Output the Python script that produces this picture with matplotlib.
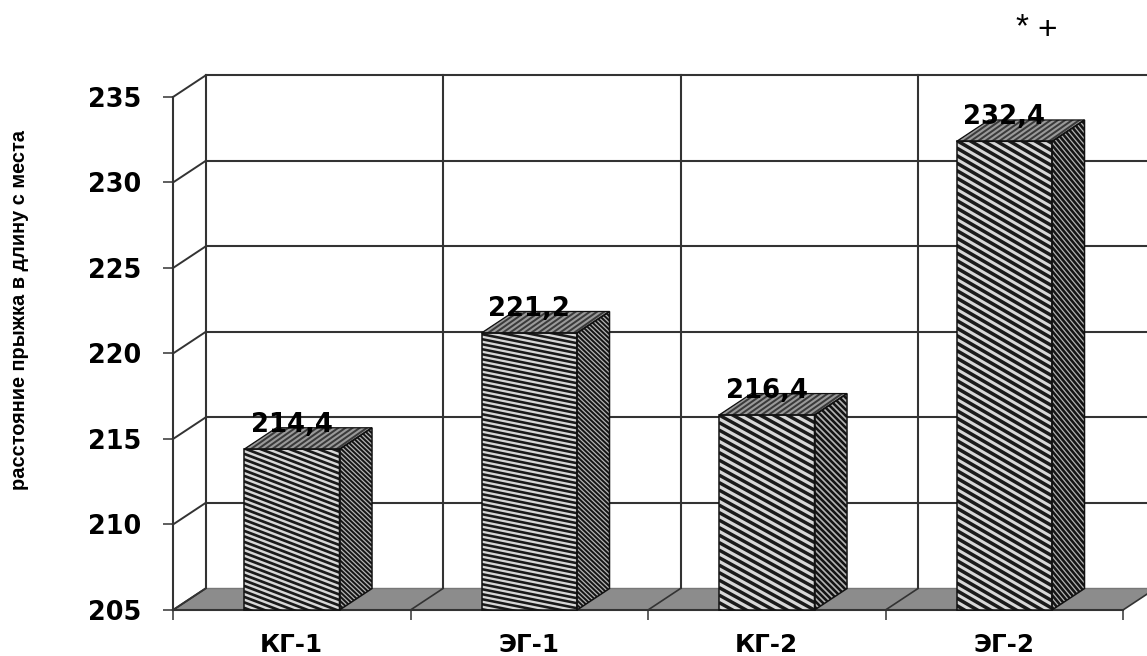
import numpy as np
import matplotlib
matplotlib.use('Agg')
import matplotlib.pyplot as plt
from matplotlib.patches import Polygon
from matplotlib.collections import LineCollection

categories = ['КГ-1', 'ЭГ-1', 'КГ-2', 'ЭГ-2']
values = [214.4, 221.2, 216.4, 232.4]
value_labels = ['214,4', '221,2', '216,4', '232,4']
yticks = [205, 210, 215, 220, 225, 230, 235]

# stripe look per bar: slope, vertical spacing in px, line width
front_style = [(0.38, 5.5, 2.7), (0.2, 5.0, 2.6), (0.55, 7.5, 3.4), (0.58, 7.5, 3.5)]
side_style = [(0.95, 4.5, 2.0), (0.95, 4.5, 2.0), (1.0, 6.0, 2.6), (1.2, 6.0, 2.6)]

GRID = '#333333'
W, H = 1147, 656
plt.rcParams['font.family'] = ['DejaVu Sans']
fig = plt.figure(figsize=(W / 100, H / 100), dpi=100)
ax = fig.add_axes([173 / W, (H - 610) / H, 950 / W, 513 / H])
ax.set_xlim(0, 4)
ax.set_ylim(205, 235)
for s in ax.spines.values():
    s.set_visible(False)

# px per data unit, and the 3d depth offset
px_x = 950 / 4
px_y = 513 / 30
dx = 32.5 / px_x
dy = 21.5 / px_y
bar_w = 95.5 / px_x


def stripes(pts, slope, step, lw, color='#1a1a1a', base='#d8d8d8', z=3):
    # slanted lines clipped to a face, slope/step given in pixels
    patch = Polygon(pts, closed=True, fc=base, ec='none', zorder=z, clip_on=False)
    ax.add_patch(patch)
    pts = np.array(pts)
    x0, x1 = pts[:, 0].min(), pts[:, 0].max()
    y0, y1 = pts[:, 1].min(), pts[:, 1].max()
    span = (x1 - x0) * px_x * abs(slope)
    segs = []
    c = y0 * px_y - span
    while c < y1 * px_y + span:
        ya = c / px_y
        yb = (c - slope * (x1 - x0) * px_x) / px_y
        segs.append([(x0, ya), (x1, yb)])
        c += step
    lc = LineCollection(segs, colors=color, linewidths=lw * 0.72, zorder=z + 0.1)
    ax.add_collection(lc, autolim=False)
    lc.set_clip_path(patch)


def outline(pts, lw=1.1, z=3.5):
    ax.add_patch(Polygon(pts, closed=True, fc='none', ec='#111111', lw=lw, zorder=z, clip_on=False))


# floor
ax.add_patch(Polygon([(0, 205), (dx, 205 + dy), (4 + dx, 205 + dy), (4, 205)],
                     closed=True, fc='#8c8c8c', ec='none', zorder=1, clip_on=False))

# back wall and side wall gridlines
for t in yticks:
    ax.plot([0, dx], [t, t + dy], color=GRID, lw=1.4, zorder=2, clip_on=False)
    if t > 205:
        ax.plot([dx, 4 + dx], [t + dy, t + dy], color=GRID, lw=1.5, zorder=2, clip_on=False)
ax.plot([dx, 4 + dx], [205 + dy, 205 + dy], color='#777777', lw=1.0, zorder=2, clip_on=False)
for i in range(5):
    ax.plot([i + dx, i + dx], [205 + dy, 235 + dy], color=GRID, lw=1.5, zorder=2, clip_on=False)
    ax.plot([i, i + dx], [205, 205 + dy], color=GRID, lw=1.2, zorder=2, clip_on=False)
ax.plot([0, 0], [205, 235], color=GRID, lw=1.5, zorder=2, clip_on=False)
ax.plot([0, 4], [205, 205], color=GRID, lw=1.5, zorder=2, clip_on=False)

# bars
for i, v in enumerate(values):
    l = i + 0.5 - bar_w / 2
    r = l + bar_w
    front = [(l, 205), (r, 205), (r, v), (l, v)]
    side = [(r, 205), (r + dx, 205 + dy), (r + dx, v + dy), (r, v)]
    top = [(l, v), (r, v), (r + dx, v + dy), (l + dx, v + dy)]
    stripes(front, *front_style[i])
    outline(front)
    stripes(side, *side_style[i], color='#151515', base='#b5b5b5')
    outline(side)
    stripes(top, -0.7, 5.0, 2.0, color='#3a3a3a', base='#9a9a9a')
    outline(top, lw=0.9)
    ax.annotate(value_labels[i], (i + 0.5, v), xytext=(0, 24 * 0.72), textcoords='offset points',
                ha='center', va='center', fontsize=18.7, fontweight='bold', color='black', zorder=6)

ax.set_yticks(yticks)
ax.set_xticks([0.5, 1.5, 2.5, 3.5])
ax.set_xticklabels(categories)
ax.set_xticks([0, 1, 2, 3, 4], minor=True)
ax.tick_params(axis='y', length=7, width=1.1, pad=15.5, labelsize=18.4, color=GRID)
ax.tick_params(axis='x', which='major', length=0, pad=16.5, labelsize=17.7)
ax.tick_params(axis='x', which='minor', length=7, width=1.1, color=GRID)
for lab in ax.get_xticklabels() + ax.get_yticklabels():
    lab.set_fontweight('bold')

fig.text(20 / W, 1 - 310 / H, 'расстояние прыжка в длину с места', rotation=90,
         ha='center', va='center', fontsize=14.4, fontweight='bold', family='Liberation Sans')
fig.text(1022 / W, 1 - 28 / H, '*', ha='center', va='center', fontsize=24, family='Liberation Sans')
fig.text(1047 / W, 1 - 30 / H, '+', ha='center', va='center', fontsize=24, family='Liberation Sans')

fig.savefig('out.png', dpi=100)
